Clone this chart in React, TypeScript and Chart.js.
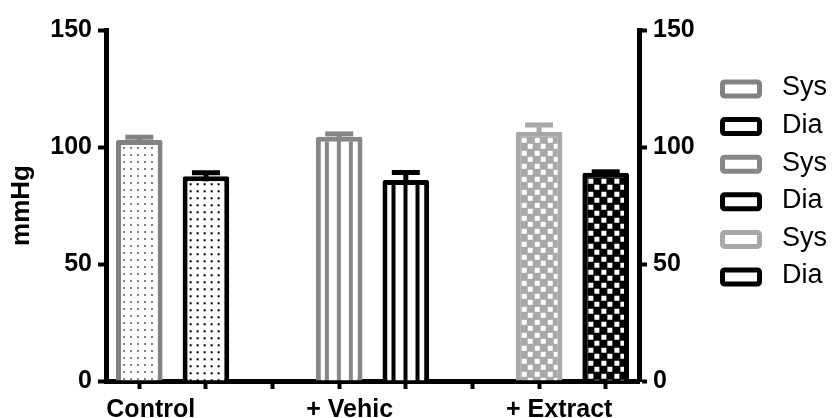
import { useEffect, useRef } from 'react';
import { Chart, registerables } from 'chart.js';

Chart.register(...registerables);

// Blood pressure (mean + SEM) per treatment group
const groups = ['Control', '+ Vehic', '+ Extract'];
const sysMean = [103, 104.4, 106.5];
const sysErr = [1.2, 1.2, 2.9];
const diaMean = [87.5, 85.9, 89];
const diaErr = [1.5, 3.2, 0.4];
const seriesLabels = ['Sys', 'Dia', 'Sys', 'Dia', 'Sys', 'Dia'];
const yTicks = [0, 50, 100, 150];
const yMax = 150;

// Appearance per group
const sysColors = ['#828282', '#878787', '#a8a8a8'];
const diaColor = '#000000';
const fillKinds = ['dots', 'stripes', 'checker'];

const FONT_FAMILY = '"Liberation Sans", Arial, Helvetica, sans-serif';
const BORDER = 5;

// Category slots: Sys, Dia, spacer for each group (no trailing spacer)
const categories: string[] = [];
groups.forEach((g, i) => {
  categories.push(g, '');
  if (i < groups.length - 1) categories.push('');
});

function tile(w: number, h: number, paint: (g: CanvasRenderingContext2D) => void) {
  const c = document.createElement('canvas');
  c.width = w;
  c.height = h;
  const g = c.getContext('2d')!;
  paint(g);
  return c;
}

function makePattern(ctx: CanvasRenderingContext2D, kind: string, color: string) {
  let c: HTMLCanvasElement;
  if (kind === 'dots') {
    c = tile(7, 7, (g) => {
      g.fillStyle = '#ffffff';
      g.fillRect(0, 0, 7, 7);
      g.fillStyle = color;
      g.fillRect(2, 2, 2, 2);
    });
  } else if (kind === 'stripes') {
    c = tile(12, 4, (g) => {
      g.fillStyle = '#ffffff';
      g.fillRect(0, 0, 12, 4);
      g.fillStyle = color;
      g.fillRect(4, 0, 4, 4);
    });
  } else {
    c = tile(13, 13, (g) => {
      g.fillStyle = color;
      g.fillRect(0, 0, 13, 13);
      g.fillStyle = '#ffffff';
      g.fillRect(1, 1, 5, 5);
      g.fillRect(7, 7, 5, 5);
    });
  }
  return ctx.createPattern(c, 'repeat')!;
}

export default function App() {
  const ref = useRef<HTMLCanvasElement>(null);

  useEffect(() => {
    document.body.style.margin = '0';
    const canvas = ref.current!;
    const ctx = canvas.getContext('2d')!;

    const means: number[] = [];
    const errs: number[] = [];
    const slots: number[] = [];
    const colors: string[] = [];
    const patterns: CanvasPattern[] = [];

    const datasets: any[] = [];
    groups.forEach((_, g) => {
      [0, 1].forEach((k) => {
        const slot = g * 3 + k;
        const mean = k === 0 ? sysMean[g] : diaMean[g];
        const color = k === 0 ? sysColors[g] : diaColor;
        const pattern = makePattern(ctx, fillKinds[g], color);
        const data: (number | null)[] = categories.map(() => null);
        data[slot] = mean;
        means.push(mean);
        errs.push(k === 0 ? sysErr[g] : diaErr[g]);
        slots.push(slot);
        colors.push(color);
        patterns.push(pattern);
        datasets.push({
          label: seriesLabels[datasets.length],
          data,
          backgroundColor: pattern,
          borderColor: color,
          borderWidth: BORDER,
          borderRadius: 2,
          grouped: false,
          barPercentage: 0.7,
          categoryPercentage: 1,
        });
      });
    });

    const font = { family: FONT_FAMILY, size: 25, weight: 'bold' as const };

    // Anchor each fill pattern to its own bar so stripes/dots line up inside the frame
    const patternAnchor = {
      id: 'patternAnchor',
      beforeDatasetsDraw(chart: any) {
        patterns.forEach((p, i) => {
          const el = chart.getDatasetMeta(i).data[slots[i]];
          if (!el) return;
          const left = el.x - el.width / 2 + BORDER;
          const top = el.y + BORDER;
          p.setTransform(new DOMMatrix().translateSelf(left, top));
        });
      },
    };

    // Upper SEM whisker with cap, in the bar's outline colour
    const errorBars = {
      id: 'errorBars',
      afterDatasetsDraw(chart: any) {
        const c = chart.ctx;
        const y = chart.scales.y;
        c.save();
        means.forEach((m, i) => {
          const el = chart.getDatasetMeta(i).data[slots[i]];
          if (!el) return;
          const yBar = y.getPixelForValue(m);
          const yTop = y.getPixelForValue(m + errs[i]);
          c.strokeStyle = colors[i];
          c.lineWidth = BORDER;
          c.lineCap = 'butt';
          c.beginPath();
          c.moveTo(el.x, yBar + BORDER);
          c.lineTo(el.x, yTop);
          c.stroke();
          const half = el.width * 0.3;
          c.beginPath();
          c.moveTo(el.x - half, yTop);
          c.lineTo(el.x + half, yTop);
          c.stroke();
        });
        c.restore();
      },
    };

    // Legend column to the right of the secondary axis
    const sideLegend = {
      id: 'sideLegend',
      afterDraw(chart: any) {
        const c = chart.ctx;
        const area = chart.chartArea;
        const x0 = area.right + 81;
        const y0 = area.top + 59;
        const step = 37.6;
        const boxW = 42;
        const boxH = 19;
        c.save();
        chart.data.datasets.forEach((ds: any, i: number) => {
          const cy = y0 + i * step;
          c.strokeStyle = ds.borderColor;
          c.lineWidth = BORDER;
          c.fillStyle = '#ffffff';
          c.beginPath();
          (c as any).roundRect(
            x0 + BORDER / 2,
            cy - boxH / 2 + BORDER / 2,
            boxW - BORDER,
            boxH - BORDER,
            2,
          );
          c.fill();
          c.stroke();
          c.fillStyle = '#000000';
          c.font = `27px ${FONT_FAMILY}`;
          c.textAlign = 'left';
          c.textBaseline = 'middle';
          c.fillText(ds.label, x0 + 62, cy - 1);
        });
        c.restore();
      },
    };

    const yAxisCommon = {
      type: 'linear' as const,
      min: 0,
      max: yMax,
      afterBuildTicks: (s: any) => {
        s.ticks = yTicks.map((v) => ({ value: v }));
      },
      ticks: { color: '#000', font, padding: 6 },
      grid: {
        drawOnChartArea: false,
        drawTicks: true,
        tickLength: 8,
        tickWidth: 4,
        tickColor: '#000',
      },
      border: { display: true, color: '#000', width: BORDER },
    };

    const chart = new Chart(ctx, {
      type: 'bar',
      data: { labels: categories, datasets },
      plugins: [patternAnchor, errorBars, sideLegend],
      options: {
        responsive: false,
        animation: false,
        events: [],
        layout: { padding: { top: 30, right: 126, bottom: 0, left: 0 } },
        plugins: {
          legend: { display: false },
          tooltip: { enabled: false },
        },
        scales: {
          x: {
            type: 'category',
            offset: true,
            grid: {
              display: true,
              offset: false,
              drawOnChartArea: false,
              drawTicks: true,
              tickLength: 8,
              tickWidth: 4,
              tickColor: '#000',
            },
            border: { display: true, color: '#000', width: BORDER },
            ticks: {
              autoSkip: false,
              maxRotation: 0,
              minRotation: 0,
              align: 'start',
              labelOffset: -33,
              padding: 6,
              color: '#000',
              font,
            },
            afterFit: (s: any) => {
              s.height = 37;
            },
          },
          y: {
            ...yAxisCommon,
            position: 'left',
            title: {
              display: true,
              text: 'mmHg',
              color: '#000',
              font: { ...font, size: 26 },
              padding: { top: 6, bottom: 0 },
            },
            afterFit: (s: any) => {
              s.width = 106;
            },
          },
          y2: {
            ...yAxisCommon,
            axis: 'y',
            position: 'right',
            afterFit: (s: any) => {
              s.width = 70;
            },
          },
        } as any,
      },
    });

    return () => chart.destroy();
  }, []);

  return (
    <div style={{ width: 835, height: 418 }}>
      <canvas ref={ref} width={835} height={418} style={{ display: 'block' }} />
    </div>
  );
}
